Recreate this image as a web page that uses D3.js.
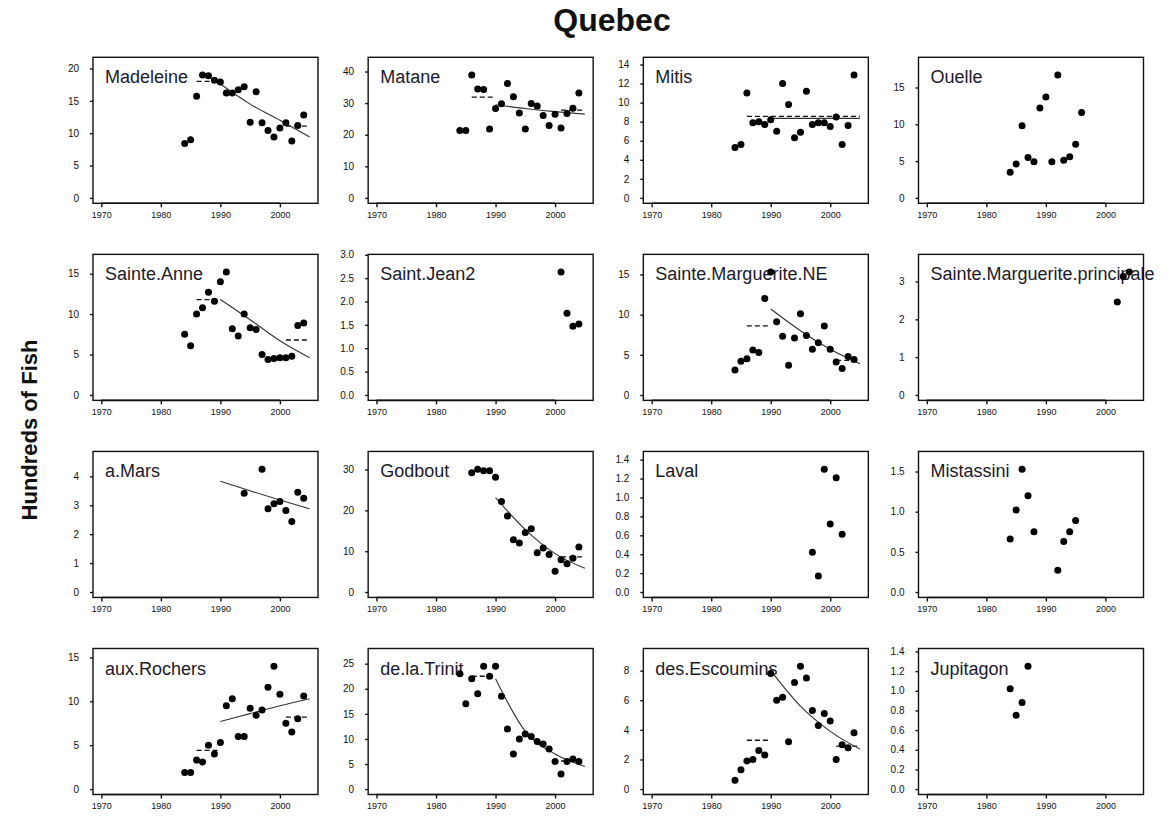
<!DOCTYPE html>
<html>
<head>
<meta charset="utf-8">
<script src="https://cdn.jsdelivr.net/npm/d3@7"></script>
<style>
  body { margin: 0; background: #fff; }
  svg { display: block; }
  text { font-family: "Liberation Sans", Arial, sans-serif; }
</style>
</head>
<body>
<svg id="chart" width="1175" height="826"></svg>
<script>
// ---- Annual counts (hundreds of fish) per river ----
const riverNames = [
  "Madeleine", "Matane", "Mitis", "Ouelle",
  "Sainte.Anne", "Saint.Jean2", "Sainte.Marguerite.NE", "Sainte.Marguerite.principale",
  "a.Mars", "Godbout", "Laval", "Mistassini",
  "aux.Rochers", "de.la.Trinit", "des.Escoumins", "Jupitagon"
];

const yearTicks = [1970, 1980, 1990, 2000];

const madeleineYears = [1984,1985,1986,1987,1988,1989,1990,1991,1992,1993,1994,1995,1996,1997,1998,1999,2000,2001,2002,2003,2004];
const madeleineFish  = [8.4,9.0,15.7,19.0,18.9,18.2,17.9,16.2,16.2,16.7,17.2,11.7,16.4,11.6,10.4,9.4,10.8,11.6,8.8,11.2,12.8];
const madeleineTrend = [17.6,14.5,12.0,9.4];
const madeleineMeans = [18.0,11.1];

const mataneYears = [1984,1985,1986,1987,1988,1989,1990,1991,1992,1993,1994,1995,1996,1997,1998,1999,2000,2001,2002,2003,2004];
const mataneFish  = [21.3,21.3,38.9,34.5,34.3,21.8,28.3,29.8,36.2,32.0,26.9,21.8,29.9,29.1,26.1,22.9,26.5,22.1,26.7,28.4,33.2];
const mataneTrend = [29.5,28.3,27.3,26.5];
const mataneMeans = [31.9,27.8];

const mitisYears = [1984,1985,1986,1987,1988,1989,1990,1991,1992,1993,1994,1995,1996,1997,1998,1999,2000,2001,2002,2003,2004];
const mitisFish  = [5.3,5.6,11.0,7.9,8.0,7.7,8.2,7.0,12.0,9.8,6.3,6.9,11.2,7.7,7.9,7.9,7.5,8.5,5.6,7.6,12.9];
const mitisTrend = [8.35,8.35,8.35,8.35];
const mitisMean  = 8.55;

const ouelleYears = [1984,1985,1986,1987,1988,1989,1990,1991,1992,1993,1994,1995,1996];
const ouelleFish  = [3.5,4.6,9.8,5.5,4.9,12.2,13.7,4.9,16.7,5.1,5.6,7.3,11.6];

const steAnneYears = [1984,1985,1986,1987,1988,1989,1990,1991,1992,1993,1994,1995,1996,1997,1998,1999,2000,2001,2002,2003,2004];
const steAnneFish  = [7.5,6.1,10.0,10.8,12.7,11.6,14.0,15.2,8.2,7.3,10.0,8.3,8.1,5.0,4.4,4.5,4.6,4.6,4.8,8.6,8.9];
const steAnneTrend = [11.8,9.3,6.7,4.6];
const steAnneMeans = [11.8,6.8];

const stJeanYears = [2001,2002,2003,2004];
const stJeanFish  = [2.63,1.75,1.47,1.52];

const steMargNEYears = [1984,1985,1986,1987,1988,1989,1990,1991,1992,1993,1994,1995,1996,1997,1998,1999,2000,2001,2002,2003,2004];
const steMargNEFish  = [3.1,4.2,4.5,5.6,5.3,12.0,15.3,9.1,7.3,3.7,7.1,10.1,7.4,5.7,6.5,8.6,5.7,4.1,3.3,4.8,4.4];
const steMargNETrend = [10.7,8.0,5.7,3.9];
const steMargNEMeans = [8.6,4.3];

const steMargPrYears = [2002,2003,2004];
const steMargPrFish  = [2.46,3.13,3.25];

const aMarsYears = [1994,1997,1998,1999,2000,2001,2002,2003,2004];
const aMarsFish  = [3.42,4.25,2.88,3.05,3.13,2.82,2.44,3.45,3.24];
const aMarsTrend = [3.83,3.5,3.18,2.88];

const godboutYears = [1986,1987,1988,1989,1990,1991,1992,1993,1994,1995,1996,1997,1998,1999,2000,2001,2002,2003,2004];
const godboutFish  = [29.2,30.1,29.7,29.7,28.1,22.2,18.6,12.8,12.0,14.6,15.5,9.6,10.8,9.2,5.1,7.9,6.9,8.3,11.0];
const godboutTrend = [23.1,15.3,9.4,5.8];
const godboutMean  = 8.6;

const lavalYears = [1997,1998,1999,2000,2001,2002];
const lavalFish  = [0.42,0.17,1.30,0.72,1.21,0.61];

const mistassiniYears = [1984,1985,1986,1987,1988,1992,1993,1994,1995];
const mistassiniFish  = [0.66,1.02,1.53,1.20,0.75,0.27,0.63,0.75,0.89];

const rochersYears = [1984,1985,1986,1987,1988,1989,1990,1991,1992,1993,1994,1995,1996,1997,1998,1999,2000,2001,2002,2003,2004];
const rochersFish  = [1.9,1.9,3.3,3.1,5.0,4.0,5.3,9.5,10.3,6.0,6.0,9.2,8.4,9.0,11.6,14.0,10.8,7.5,6.5,8.0,10.6];
const rochersTrend = [7.7,8.6,9.5,10.3];
const rochersMeans = [4.4,8.2];

const trinitYears = [1984,1985,1986,1987,1988,1989,1990,1991,1992,1993,1994,1995,1996,1997,1998,1999,2000,2001,2002,2003,2004];
const trinitFish  = [23.0,17.0,22.0,19.0,24.5,22.5,24.5,18.5,12.0,7.0,10.0,11.0,10.5,9.5,9.0,8.0,5.5,3.0,5.5,6.0,5.5];
const trinitTrend = [22.0,11.5,7.0,4.5];
const trinitMeans = [22.5,5.6];

const escouminsYears = [1984,1985,1986,1987,1988,1989,1990,1991,1992,1993,1994,1995,1996,1997,1998,1999,2000,2001,2002,2003,2004];
const escouminsFish  = [0.6,1.3,1.9,2.0,2.6,2.3,7.8,6.0,6.2,3.2,7.2,8.3,7.5,5.3,4.3,5.1,4.6,2.0,3.0,2.8,3.8];
const escouminsTrend = [8.0,5.6,3.9,2.7];
const escouminsMeans = [3.3,2.9];

const jupitagonYears = [1984,1985,1986,1987];
const jupitagonFish  = [1.02,0.75,0.88,1.25];

// Tick labels on each vertical axis
const ticksBy5to20   = [0,5,10,15,20];
const ticksBy10to40  = [0,10,20,30,40];
const ticksBy2to14   = [0,2,4,6,8,10,12,14];
const ticksBy5to15   = [0,5,10,15];
const ticksHalfTo3   = [0,0.5,1,1.5,2,2.5,3];
const ticksBy1to3    = [0,1,2,3];
const ticksBy1to4    = [0,1,2,3,4];
const ticksBy10to30  = [0,10,20,30];
const ticksFifthTo14 = [0,0.2,0.4,0.6,0.8,1,1.2,1.4];
const ticksHalfTo15  = [0,0.5,1,1.5];
const ticksBy5to25   = [0,5,10,15,20,25];
const ticksBy2to8    = [0,2,4,6,8];

// Year spans of the fitted trend and of the period means
const trendYears  = [1990,1995,2000,2005];
const earlySpan   = [1986,1990];
const lateSpan    = [2001,2005];
const wholeSpan   = [1986,2005];

const panels = [
  {name: riverNames[0],  years: madeleineYears,  fish: madeleineFish,  ticks: ticksBy5to20,  dec: false, trend: madeleineTrend,
   means: [[earlySpan, madeleineMeans[0]], [lateSpan, madeleineMeans[1]]]},
  {name: riverNames[1],  years: mataneYears,     fish: mataneFish,     ticks: ticksBy10to40, dec: false, trend: mataneTrend,
   means: [[earlySpan, mataneMeans[0]], [lateSpan, mataneMeans[1]]]},
  {name: riverNames[2],  years: mitisYears,      fish: mitisFish,      ticks: ticksBy2to14,  dec: false, trend: mitisTrend,
   means: [[wholeSpan, mitisMean]]},
  {name: riverNames[3],  years: ouelleYears,     fish: ouelleFish,     ticks: ticksBy5to15,  dec: false},
  {name: riverNames[4],  years: steAnneYears,    fish: steAnneFish,    ticks: ticksBy5to15,  dec: false, trend: steAnneTrend,
   means: [[earlySpan, steAnneMeans[0]], [lateSpan, steAnneMeans[1]]]},
  {name: riverNames[5],  years: stJeanYears,     fish: stJeanFish,     ticks: ticksHalfTo3,  dec: true},
  {name: riverNames[6],  years: steMargNEYears,  fish: steMargNEFish,  ticks: ticksBy5to15,  dec: false, trend: steMargNETrend,
   means: [[earlySpan, steMargNEMeans[0]], [lateSpan, steMargNEMeans[1]]]},
  {name: riverNames[7],  years: steMargPrYears,  fish: steMargPrFish,  ticks: ticksBy1to3,   dec: false},
  {name: riverNames[8],  years: aMarsYears,      fish: aMarsFish,      ticks: ticksBy1to4,   dec: false, trend: aMarsTrend},
  {name: riverNames[9],  years: godboutYears,    fish: godboutFish,    ticks: ticksBy10to30, dec: false, trend: godboutTrend,
   means: [[lateSpan, godboutMean]]},
  {name: riverNames[10], years: lavalYears,      fish: lavalFish,      ticks: ticksFifthTo14, dec: true},
  {name: riverNames[11], years: mistassiniYears, fish: mistassiniFish, ticks: ticksHalfTo15, dec: true},
  {name: riverNames[12], years: rochersYears,    fish: rochersFish,    ticks: ticksBy5to15,  dec: false, trend: rochersTrend,
   means: [[earlySpan, rochersMeans[0]], [lateSpan, rochersMeans[1]]]},
  {name: riverNames[13], years: trinitYears,     fish: trinitFish,     ticks: ticksBy5to25,  dec: false, trend: trinitTrend,
   means: [[earlySpan, trinitMeans[0]], [lateSpan, trinitMeans[1]]]},
  {name: riverNames[14], years: escouminsYears,  fish: escouminsFish,  ticks: ticksBy2to8,   dec: false, trend: escouminsTrend,
   means: [[earlySpan, escouminsMeans[0]], [lateSpan, escouminsMeans[1]]]},
  {name: riverNames[15], years: jupitagonYears,  fish: jupitagonFish,  ticks: ticksFifthTo14, dec: true}
];

// ---- Layout ----
const svg = d3.select("#chart");
svg.append("rect").attr("width", 1175).attr("height", 826).attr("fill", "#fff");

const W = 225, H = 146;
const colLeft = d3.scaleLinear().domain([0, 3]).range([93, 918.5]);
const rowTop  = d3.scaleLinear().domain([0, 3]).range([57.3, 648.5]);

// Shared year axis, padded 4% on each side of 1970-2005
const yearPad = 0.04 * (2005 - 1970);
const ink = "#111";

svg.append("text")
  .attr("x", 612).attr("y", 31)
  .attr("text-anchor", "middle")
  .attr("font-size", 32).attr("font-weight", "bold").attr("fill", ink)
  .text("Quebec");

svg.append("text")
  .attr("transform", "translate(37,430) rotate(-90)")
  .attr("text-anchor", "middle")
  .attr("font-size", 22).attr("font-weight", "bold").attr("fill", ink)
  .text("Hundreds of Fish");

panels.forEach((p, i) => {
  const col = i % 4, row = Math.floor(i / 4);
  const g = svg.append("g")
    .attr("transform", `translate(${colLeft(col)},${rowTop(row)})`);

  const x = d3.scaleLinear().domain([1970 - yearPad, 2005 + yearPad]).range([0, W]);
  const top = 1.1 * d3.max(p.fish);
  const y = d3.scaleLinear().domain([-0.04 * top, 1.04 * top]).range([H, 0]);

  // vertical axis
  const yAxis = g.append("g")
    .call(d3.axisLeft(y).tickValues(p.ticks).tickSize(3).tickPadding(11)
      .tickFormat(p.dec ? d3.format(".1f") : d3.format("d")));
  yAxis.select(".domain").remove();
  yAxis.selectAll("line").attr("stroke", ink).attr("stroke-width", 1.4);
  yAxis.selectAll("text").attr("font-size", 10).attr("fill", ink)
    .attr("font-family", "'Liberation Sans', Arial, sans-serif");

  // horizontal axis
  const xAxis = g.append("g").attr("transform", `translate(0,${H})`)
    .call(d3.axisBottom(x).tickValues(yearTicks).tickSize(4).tickPadding(4)
      .tickFormat(d3.format("d")));
  xAxis.select(".domain").remove();
  xAxis.selectAll("line").attr("stroke", ink).attr("stroke-width", 1.4);
  xAxis.selectAll("text").attr("font-size", 9).attr("fill", ink)
    .attr("font-family", "'Liberation Sans', Arial, sans-serif");
  g.append("line")
    .attr("x1", x(yearTicks[0])).attr("x2", x(yearTicks[yearTicks.length - 1]))
    .attr("y1", H).attr("y2", H)
    .attr("stroke", ink).attr("stroke-width", 1.6);

  // frame
  g.append("rect")
    .attr("width", W).attr("height", H)
    .attr("fill", "none").attr("stroke", ink).attr("stroke-width", 1.4);

  // river name
  g.append("text")
    .attr("x", 12).attr("y", 26)
    .attr("font-size", 18).attr("fill", "#1a1a2a")
    .text(p.name);

  // period means (dashed)
  (p.means || []).forEach(([span, level]) => {
    g.append("line")
      .attr("x1", x(span[0])).attr("x2", x(span[1]))
      .attr("y1", y(level)).attr("y2", y(level))
      .attr("stroke", ink).attr("stroke-width", 1.3)
      .attr("stroke-dasharray", "5,3");
  });

  // fitted trend (solid)
  if (p.trend) {
    const line = d3.line()
      .x((d, k) => x(trendYears[k]))
      .y(d => y(d))
      .curve(d3.curveMonotoneX);
    g.append("path")
      .datum(p.trend)
      .attr("d", line)
      .attr("fill", "none").attr("stroke", "#333").attr("stroke-width", 1.1);
  }

  // annual counts
  g.selectAll("circle.pt")
    .data(p.years.map((yr, k) => ({yr, v: p.fish[k]})))
    .join("circle")
    .attr("class", "pt")
    .attr("cx", d => x(d.yr)).attr("cy", d => y(d.v))
    .attr("r", 3.5).attr("fill", "#000");
});
</script>
</body>
</html>
